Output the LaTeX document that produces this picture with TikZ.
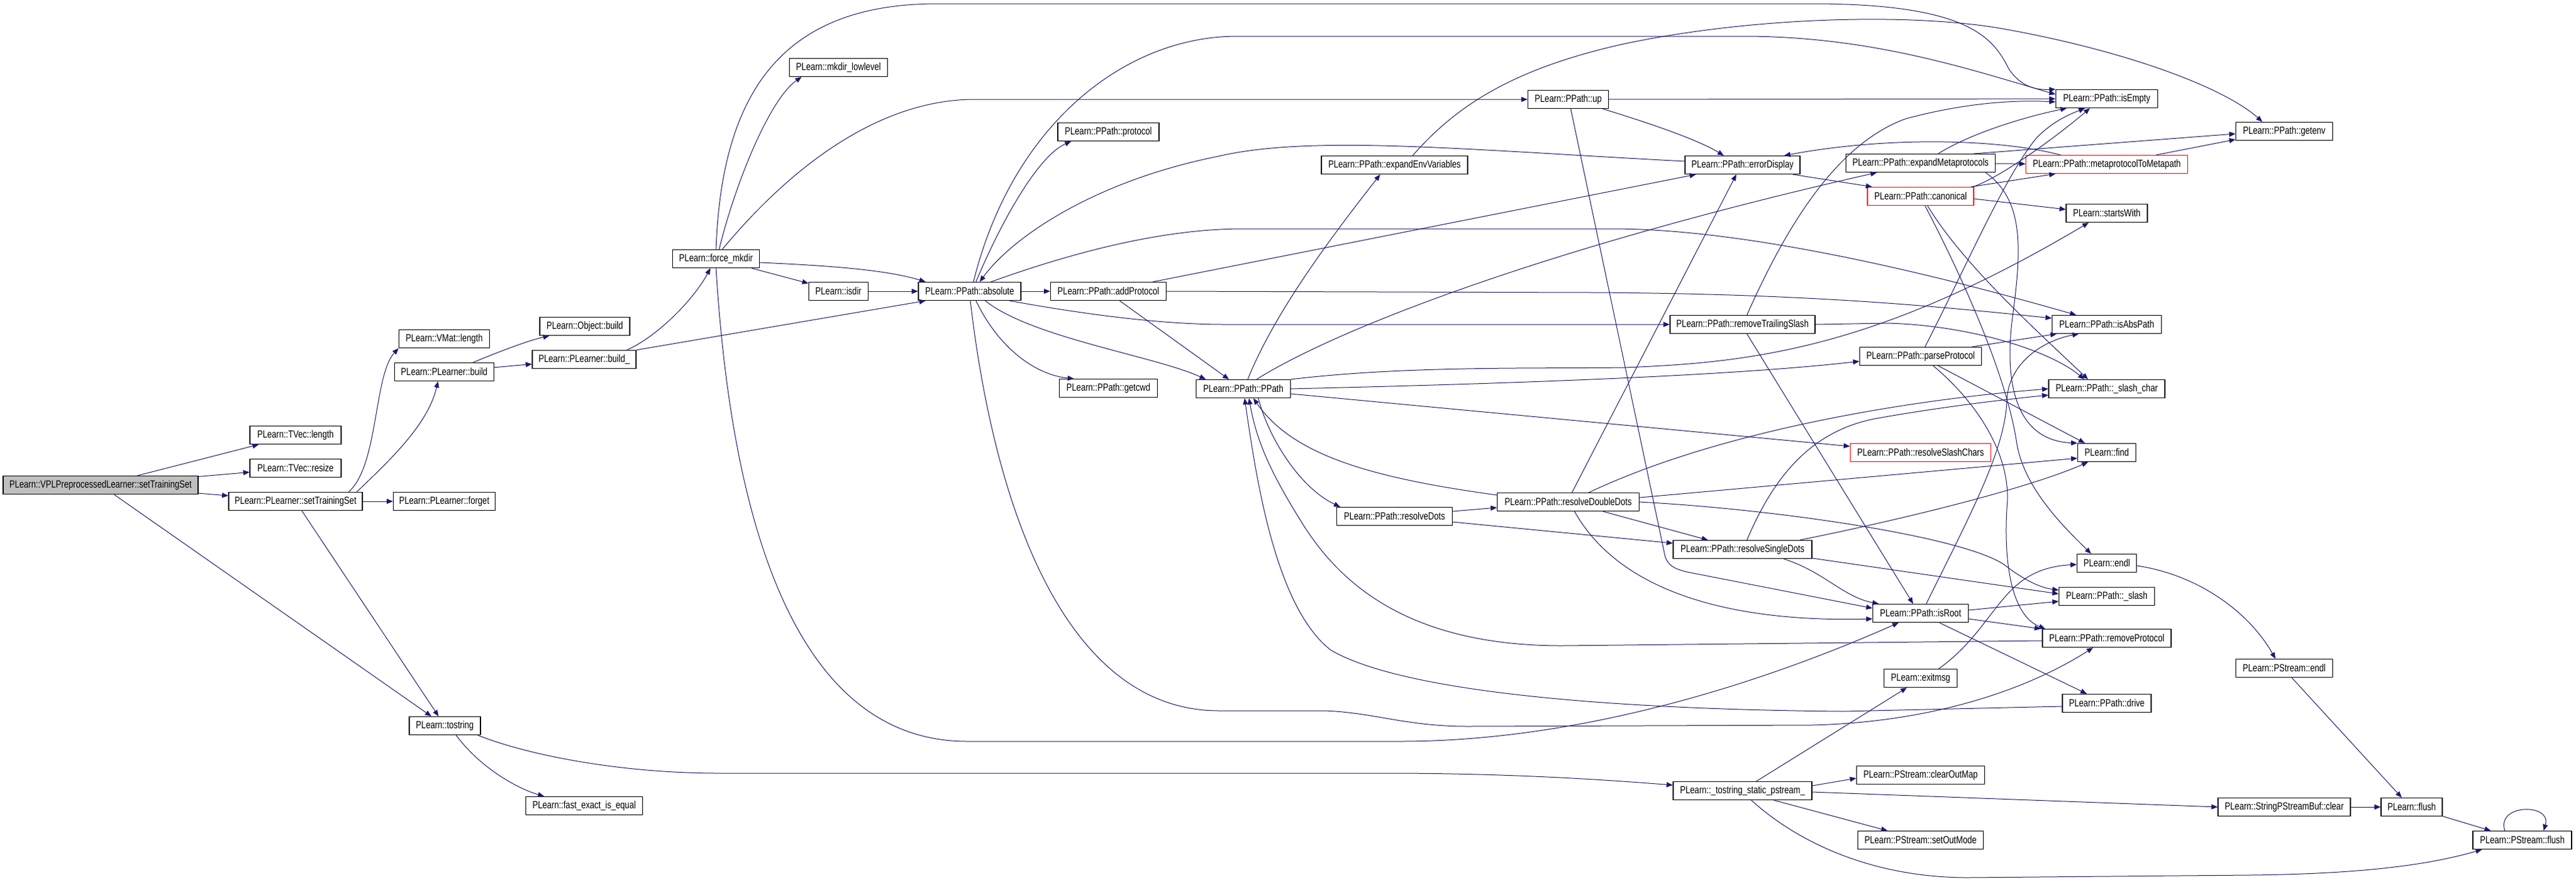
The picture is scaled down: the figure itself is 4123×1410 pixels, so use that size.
\documentclass[tikz,border=0pt]{standalone}
\usepackage{fontspec}
\setmainfont{Liberation Sans}
\usepackage{graphicx}
\usetikzlibrary{arrows.meta,calc}
\definecolor{edgec}{HTML}{191970}
\definecolor{redc}{HTML}{FF0000}
\definecolor{grayfill}{HTML}{BFBFBF}
\newcommand\lbl[1]{\scalebox{0.79}[1]{#1}}
\begin{document}
\begin{tikzpicture}[x=0.5pt,y=-0.5pt,
  nd/.style={draw=black, line width=0.6pt, fill=white, inner sep=0pt, minimum height=14.5pt, font=\fontsize{8.3}{10}\selectfont},
  rednd/.style={nd, draw=redc},
  cg/.style={draw=edgec, line width=0.5pt, -{Triangle[length=5pt,width=4pt]}}]
\useasboundingbox (0,0) rectangle (4123,1410);
\fill[white] (0,0) rectangle (4123,1410);
% nodes
\node[nd,minimum width=156pt,fill=grayfill] (vpl) at (161,776) {\lbl{PLearn::VPLPreprocessedLearner::setTrainingSet}};
\node[nd,minimum width=73pt] (tveclen) at (473,696) {\lbl{PLearn::TVec::length}};
\node[nd,minimum width=73pt] (tvecres) at (473,749) {\lbl{PLearn::TVec::resize}};
\node[nd,minimum width=107pt] (plst) at (473,802) {\lbl{PLearn::PLearner::setTrainingSet}};
\node[nd,minimum width=72.5pt] (vmatlen) at (711,542) {\lbl{PLearn::VMat::length}};
\node[nd,minimum width=79.5pt] (plbuild) at (711,595) {\lbl{PLearn::PLearner::build}};
\node[nd,minimum width=81.5pt] (forget) at (711,802) {\lbl{PLearn::PLearner::forget}};
\node[nd,minimum width=57pt] (tostring) at (712,1161) {\lbl{PLearn::tostring}};
\node[nd,minimum width=72pt] (objbuild) at (936,522) {\lbl{PLearn::Object::build}};
\node[nd,minimum width=83pt] (buildu) at (935,575) {\lbl{PLearn::PLearner::build\_}};
\node[nd,minimum width=93.5pt] (fastexact) at (935,1289) {\lbl{PLearn::fast\_exact\_is\_equal}};
\node[nd,minimum width=69.5pt] (forcemkdir) at (1146,414) {\lbl{PLearn::force\_mkdir}};
\node[nd,minimum width=78.5pt] (mkdirll) at (1342,108) {\lbl{PLearn::mkdir\_lowlevel}};
\node[nd,minimum width=47.5pt] (isdir) at (1342,466) {\lbl{PLearn::isdir}};
\node[nd,minimum width=82pt] (absolute) at (1552,466) {\lbl{PLearn::PPath::absolute}};
\node[nd,minimum width=81pt] (protocol) at (1774,211) {\lbl{PLearn::PPath::protocol}};
\node[nd,minimum width=92.5pt] (addprotocol) at (1774,466) {\lbl{PLearn::PPath::addProtocol}};
\node[nd,minimum width=78.5pt] (getcwd) at (1774,621) {\lbl{PLearn::PPath::getcwd}};
\node[nd,minimum width=75.5pt] (pppath) at (1990,622) {\lbl{PLearn::PPath::PPath}};
\node[nd,minimum width=92.5pt] (resolvedots) at (2232,826) {\lbl{PLearn::PPath::resolveDots}};
\node[nd,minimum width=117pt] (expandenv) at (2232,264) {\lbl{PLearn::PPath::expandEnvVariables}};
\node[nd,minimum width=64.5pt] (up) at (2510,159) {\lbl{PLearn::PPath::up}};
\node[nd,minimum width=113.5pt] (resolvedd) at (2510,803) {\lbl{PLearn::PPath::resolveDoubleDots}};
\node[nd,minimum width=92pt] (errordisplay) at (2789,264) {\lbl{PLearn::PPath::errorDisplay}};
\node[nd,minimum width=116pt] (rts) at (2789,519) {\lbl{PLearn::PPath::removeTrailingSlash}};
\node[nd,minimum width=111pt] (resolvesd) at (2789,879) {\lbl{PLearn::PPath::resolveSingleDots}};
\node[nd,minimum width=111pt] (tostrps) at (2789,1265) {\lbl{PLearn::\_tostring\_static\_pstream\_}};
\node[nd,minimum width=119.5pt] (expandmeta) at (3074,261) {\lbl{PLearn::PPath::expandMetaprotocols}};
\node[rednd,minimum width=85pt] (canonical) at (3074,314) {\lbl{PLearn::PPath::canonical}};
\node[nd,minimum width=97.5pt] (parseprotocol) at (3074,570) {\lbl{PLearn::PPath::parseProtocol}};
\node[rednd,minimum width=112.5pt] (resolveslash) at (3074,724) {\lbl{PLearn::PPath::resolveSlashChars}};
\node[nd,minimum width=76.5pt] (isroot) at (3074,981) {\lbl{PLearn::PPath::isRoot}};
\node[nd,minimum width=58.5pt] (exitmsg) at (3074,1085) {\lbl{PLearn::exitmsg}};
\node[nd,minimum width=102.5pt] (clearoutmap) at (3074,1240) {\lbl{PLearn::PStream::clearOutMap}};
\node[nd,minimum width=100.5pt] (setoutmode) at (3074,1344) {\lbl{PLearn::PStream::setOutMode}};
\node[nd,minimum width=71pt] (drive) at (3372,1125) {\lbl{PLearn::PPath::drive}};
\node[nd,minimum width=81.5pt] (isempty) at (3372,158) {\lbl{PLearn::PPath::isEmpty}};
\node[rednd,minimum width=129.5pt] (metatometa) at (3372,263) {\lbl{PLearn::PPath::metaprotocolToMetapath}};
\node[nd,minimum width=65pt] (startswith) at (3372,341) {\lbl{PLearn::startsWith}};
\node[nd,minimum width=87.5pt] (isabspath) at (3372,519) {\lbl{PLearn::PPath::isAbsPath}};
\node[nd,minimum width=93pt] (slashchar) at (3372,622) {\lbl{PLearn::PPath::\_slash\_char}};
\node[nd,minimum width=46.5pt] (find) at (3372,724) {\lbl{PLearn::find}};
\node[nd,minimum width=47.5pt] (endl) at (3372,901) {\lbl{PLearn::endl}};
\node[nd,minimum width=76.5pt] (slash) at (3372,954) {\lbl{PLearn::PPath::\_slash}};
\node[nd,minimum width=103pt] (removeprotocol) at (3372,1021) {\lbl{PLearn::PPath::removeProtocol}};
\node[nd,minimum width=77.5pt] (getenv) at (3656,210) {\lbl{PLearn::PPath::getenv}};
\node[nd,minimum width=77.5pt] (pstreamendl) at (3656,1069) {\lbl{PLearn::PStream::endl}};
\node[nd,minimum width=106pt] (spsbclear) at (3656,1291) {\lbl{PLearn::StringPStreamBuf::clear}};
\node[nd,minimum width=49pt] (flush) at (3860,1291) {\lbl{PLearn::flush}};
\node[nd,minimum width=79pt] (psflush) at (4037,1344) {\lbl{PLearn::PStream::flush}};
% edges
\draw[cg] (vpl) -- (tveclen);
\draw[cg] (vpl) -- (tvecres);
\draw[cg] (vpl) -- (plst);
\draw[cg] (vpl) -- (tostring);
\draw[cg] ($(plst.north)+(85,0)$) .. controls (606,745) and (598,600) .. (vmatlen.south west);
\draw[cg] ($(plst.north)+(98,0)$) .. controls (620,740) and (685,680) .. ($(plbuild.south)+(-10,0)$);
\draw[cg] (plst) -- (forget);
\draw[cg] (plst) -- (tostring);
\draw[cg] ($(plbuild.north)+(46,0)$) .. controls (800,562) and (845,545) .. ($(objbuild.south west)+(16,0)$);
\draw[cg] (plbuild) -- (buildu);
\draw[cg] ($(buildu.north)+(68,0)$) .. controls (1050,540) and (1110,480) .. ($(forcemkdir.south)+(-9,0)$);
\draw[cg] (buildu.north east) -- ($(absolute.south west)+(12,0)$);
\draw[cg] (forcemkdir.north) .. controls (1155,150) and (1250,6) .. (1500,6) -- (2900,6) .. controls (3150,6) and (3190,60) .. (3215,110) .. controls (3235,140) and (3260,144) .. (isempty.north west);
\draw[cg] ($(forcemkdir.north)+(5,0)$) .. controls (1175,300) and (1230,160) .. ($(mkdirll.south west)+(20,0)$);
\draw[cg] ($(forcemkdir.north)+(10,0)$) .. controls (1280,250) and (1420,159) .. (1560,159) -- (up.west);
\draw[cg] (forcemkdir) -- (isdir);
\draw[cg] ($(forcemkdir.east)+(0,6)$) .. controls (1330,425) and (1420,432) .. ($(absolute.north west)+(12,0)$);
\draw[cg] (forcemkdir.south) .. controls (1175,900) and (1300,1186) .. (1548,1186) -- (2240,1186) .. controls (2550,1186) and (2850,1080) .. ($(isroot.south west)+(42,0)$);
\draw[cg] (isdir) -- (absolute);
\draw[cg] ($(absolute.north)+(10,0)$) .. controls (1600,360) and (1660,250) .. ($(protocol.south west)+(22,0)$);
\draw[cg] (absolute) -- (addprotocol);
\draw[cg] ($(absolute.south)+(10,0)$) .. controls (1600,560) and (1660,600) .. ($(getcwd.north west)+(24,0)$);
\draw[cg] ($(absolute.north)+(6,0)$) .. controls (1620,200) and (1800,58) .. (1980,58) -- (2800,58) .. controls (3000,60) and (3150,110) .. ($(isempty.west)+(0,-7)$);
\draw[cg] ($(errordisplay.west)+(0,-6)$) .. controls (2350,240) and (2100,215) .. (1950,250) .. controls (1750,290) and (1620,380) .. ($(absolute.north)+(16,0)$);
\draw[cg] ($(absolute.north)+(34,0)$) .. controls (1700,410) and (1850,366) .. (1990,366) -- (2580,366) .. controls (2800,366) and (3100,440) .. ($(isabspath.north)+(-49,0)$);
\draw[cg] ($(absolute.south east)+(-19,0)$) .. controls (1720,500) and (1850,519) .. (1960,519) -- (rts.west);
\draw[cg] ($(absolute.south)+(25,0)$) .. controls (1650,540) and (1850,570) .. ($(pppath.north west)+(16,0)$);
\draw[cg] ($(absolute.south)+(1,0)$) .. controls (1590,800) and (1700,1136) .. (1950,1137) -- (2120,1137) .. controls (2200,1140) and (2250,1162) .. (2350,1162) -- (2900,1160) .. controls (3100,1155) and (3250,1100) .. ($(removeprotocol.south)+(-22,0)$);
\draw[cg] ($(addprotocol.north east)+(-22,0)$) -- ($(errordisplay.south west)+(18,0)$);
\draw[cg] (addprotocol.east) -- (2550,468) .. controls (2900,470) and (3100,490) .. ($(isabspath.west)+(0,-10)$);
\draw[cg] ($(addprotocol.south)+(18,0)$) -- ($(pppath.north)+(-23,0)$);
\draw[cg] ($(pppath.north)+(7,0)$) .. controls (2040,500) and (2130,380) .. ($(expandenv.south)+(-23,0)$);
\draw[cg] ($(pppath.north)+(21,0)$) .. controls (2150,520) and (2500,390) .. ($(expandmeta.south west)+(50,0)$);
\draw[cg] (pppath.north east) .. controls (2250,585) and (2450,590) .. (2600,588) .. controls (2800,580) and (3000,560) .. ($(startswith.south)+(-29,0)$);
\draw[cg] (pppath.east) .. controls (2500,612) and (2800,598) .. ($(parseprotocol.west)+(0,8)$);
\draw[cg] ($(pppath.east)+(0,8)$) -- ($(resolveslash.west)+(0,-10)$);
\draw[cg] ($(pppath.south)+(24,0)$) .. controls (2030,700) and (2080,780) .. ($(resolvedots.north west)+(6,0)$);
\draw[cg] ($(resolvedd.west)+(0,-11)$) .. controls (2200,765) and (2070,730) .. ($(pppath.south)+(16,0)$);
\draw[cg] ($(removeprotocol.west)+(0,4)$) -- (2500,1033) .. controls (2250,1033) and (2140,930) .. (2080,830) .. controls (2030,750) and (2010,700) .. ($(pppath.south)+(9,0)$);
\draw[cg] ($(drive.west)+(0,5)$) -- (2950,1138) .. controls (2600,1135) and (2250,1110) .. (2130,1040) .. controls (2040,970) and (2010,760) .. ($(pppath.south)+(2,0)$);
\draw[cg] ($(resolvedots.east)+(0,-8)$) -- ($(resolvedd.west)+(0,9)$);
\draw[cg] ($(resolvedots.east)+(0,9)$) -- ($(resolvesd.west)+(0,-10)$);
\draw[cg] (resolvedd) -- (resolvesd);
\draw[cg] ($(resolvedd.south)+(10,0)$) .. controls (2600,960) and (2800,995) .. ($(isroot.west)+(0,9)$);
\draw[cg] ($(resolvedd.north)+(6,0)$) -- ($(errordisplay.south)+(-10,0)$);
\draw[cg] ($(resolvedd.north)+(33,0)$) .. controls (2750,690) and (3050,640) .. (slashchar.west);
\draw[cg] ($(resolvedd.east)+(0,-7)$) -- ($(find.west)+(0,9)$);
\draw[cg] (resolvedd.east) .. controls (2850,815) and (3150,860) .. (3210,905) .. controls (3240,928) and (3265,940) .. ($(slash.west)+(0,-10)$);
\draw[cg] ($(resolvesd.south)+(66,0)$) .. controls (2920,915) and (2950,955) .. ($(isroot.north west)+(10,0)$);
\draw[cg] ($(resolvesd.north east)+(-20,0)$) .. controls (3050,830) and (3250,780) .. ($(find.south)+(-30,0)$);
\draw[cg] ($(resolvesd.east)+(0,14)$) -- ($(slash.west)+(0,-4)$);
\draw[cg] ($(resolvesd.north)+(7,0)$) .. controls (2840,760) and (2900,690) .. (3000,670) .. controls (3100,652) and (3200,640) .. ($(slashchar.west)+(0,10)$);
\draw[cg] ($(rts.north)+(7,0)$) .. controls (2860,360) and (2940,230) .. (3050,190) .. controls (3150,163) and (3230,160) .. ($(isempty.west)+(0,5)$);
\draw[cg] ($(rts.south)+(7,0)$) -- ($(isroot.north)+(-12,0)$);
\draw[cg] (rts.east) -- (3020,517) .. controls (3150,520) and (3280,560) .. ($(slashchar.north)+(-36,0)$);
\draw[cg] ($(up.south east)+(-10,0)$) .. controls (2650,200) and (2720,225) .. ($(errordisplay.north)+(-30,0)$);
\draw[cg] (up) -- (isempty);
\draw[cg] ($(up.south)+(4,0)$) -- (2665,890) .. controls (2670,905) and (2680,910) .. (2700,915) -- ($(isroot.west)+(0,-8)$);
\draw[cg] ($(errordisplay.south east)+(-12,0)$) -- ($(canonical.north west)+(8,0)$);
\draw[cg] ($(metatometa.north west)+(56,0)$) .. controls (3200,222) and (3020,218) .. ($(errordisplay.north east)+(-26,0)$);
\draw[cg] ($(expandmeta.north)+(28,0)$) .. controls (3160,210) and (3250,185) .. ($(isempty.south west)+(18,0)$);
\draw[cg] ($(expandmeta.north east)+(-35,0)$) -- ($(getenv.west)+(0,4)$);
\draw[cg] (expandmeta) -- (metatometa);
\draw[cg] ($(metatometa.north east)+(-51,0)$) -- ($(getenv.south west)+(0,-2)$);
\draw[cg] ($(expandenv.north)+(29,0)$) .. controls (2330,170) and (2420,110) .. (2600,70) .. controls (2800,28) and (3050,20) .. (3200,45) .. controls (3400,80) and (3560,140) .. ($(getenv.north)+(-35,0)$);
\draw[cg] ($(canonical.north east)+(-5,0)$) -- ($(metatometa.south west)+(48,0)$);
\draw[cg] ($(canonical.north east)+(-2,0)$) .. controls (3200,285) and (3290,220) .. ($(isempty.south)+(-27,0)$);
\draw[cg] ($(canonical.east)+(0,4)$) -- ($(startswith.west)+(0,-6)$);
\draw[cg] ($(canonical.south)+(11,0)$) .. controls (3140,420) and (3250,520) .. ($(slashchar.north)+(-30,0)$);
\draw[cg] ($(canonical.south)+(7,0)$) .. controls (3160,480) and (3215,620) .. (3228,710) .. controls (3240,780) and (3300,840) .. ($(endl.north)+(-25,0)$);
\draw[cg] ($(parseprotocol.north)+(7,0)$) .. controls (3150,420) and (3210,280) .. (3260,220) .. controls (3290,190) and (3320,180) .. ($(isempty.south)+(-35,0)$);
\draw[cg] ($(parseprotocol.north east)+(-16,0)$) -- ($(isabspath.south west)+(8,0)$);
\draw[cg] ($(parseprotocol.south)+(28,0)$) -- ($(find.north west)+(12,0)$);
\draw[cg] ($(parseprotocol.south)+(20,0)$) .. controls (3160,640) and (3215,720) .. (3213,800) .. controls (3205,900) and (3220,985) .. ($(removeprotocol.north west)+(5,0)$);
\draw[cg] ($(expandmeta.south east)+(-16,0)$) .. controls (3240,320) and (3235,400) .. (3222,500) .. controls (3205,620) and (3230,705) .. (find.north west);
\draw[cg] ($(isroot.north)+(9,0)$) .. controls (3150,830) and (3210,720) .. (3212,640) .. controls (3215,580) and (3270,545) .. ($(isabspath.south)+(-45,0)$);
\draw[cg] ($(isroot.east)+(0,-5)$) -- ($(slash.west)+(0,8)$);
\draw[cg] ($(isroot.east)+(0,9)$) -- ($(removeprotocol.north west)+(-2,0)$);
\draw[cg] ($(isroot.south)+(30,0)$) -- ($(drive.north)+(-32,0)$);
\draw[cg] ($(tostring.south east)+(-5,0)$) .. controls (850,1210) and (1000,1237) .. (1150,1237) -- (2240,1237) .. controls (2450,1238) and (2600,1250) .. ($(tostrps.west)+(0,-9)$);
\draw[cg] ($(tostring.south)+(18,0)$) .. controls (770,1230) and (830,1262) .. ($(fastexact.north west)+(30,0)$);
\draw[cg] ($(tostrps.north)+(22,0)$) -- ($(exitmsg.south)+(-22,0)$);
\draw[cg] ($(tostrps.east)+(0,-8)$) -- ($(clearoutmap.west)+(0,5)$);
\draw[cg] ($(tostrps.east)+(0,2)$) -- (spsbclear.west);
\draw[cg] ($(tostrps.south)+(50,0)$) -- ($(setoutmode.north west)+(48,0)$);
\draw[cg] ($(tostrps.south)+(14,0)$) .. controls (2880,1350) and (3000,1404) .. (3150,1404) -- (3600,1400) .. controls (3800,1398) and (3900,1380) .. ($(psflush.south west)+(15,0)$);
\draw[cg] ($(exitmsg.north)+(29,0)$) .. controls (3200,1000) and (3200,910) .. ($(endl.west)+(0,2)$);
\draw[cg] ($(endl.east)+(0,4)$) .. controls (3520,920) and (3600,980) .. ($(pstreamendl.north)+(-14,0)$);
\draw[cg] ($(pstreamendl.south)+(12,0)$) -- ($(flush.north)+(-16,0)$);
\draw[cg] (spsbclear) -- (flush);
\draw[cg] (flush) -- (psflush);
\draw[cg] ($(psflush.north)+(-28,0)$) .. controls (3995,1285) and (4085,1285) .. ($(psflush.north)+(34,0)$);
\end{tikzpicture}
\end{document}
